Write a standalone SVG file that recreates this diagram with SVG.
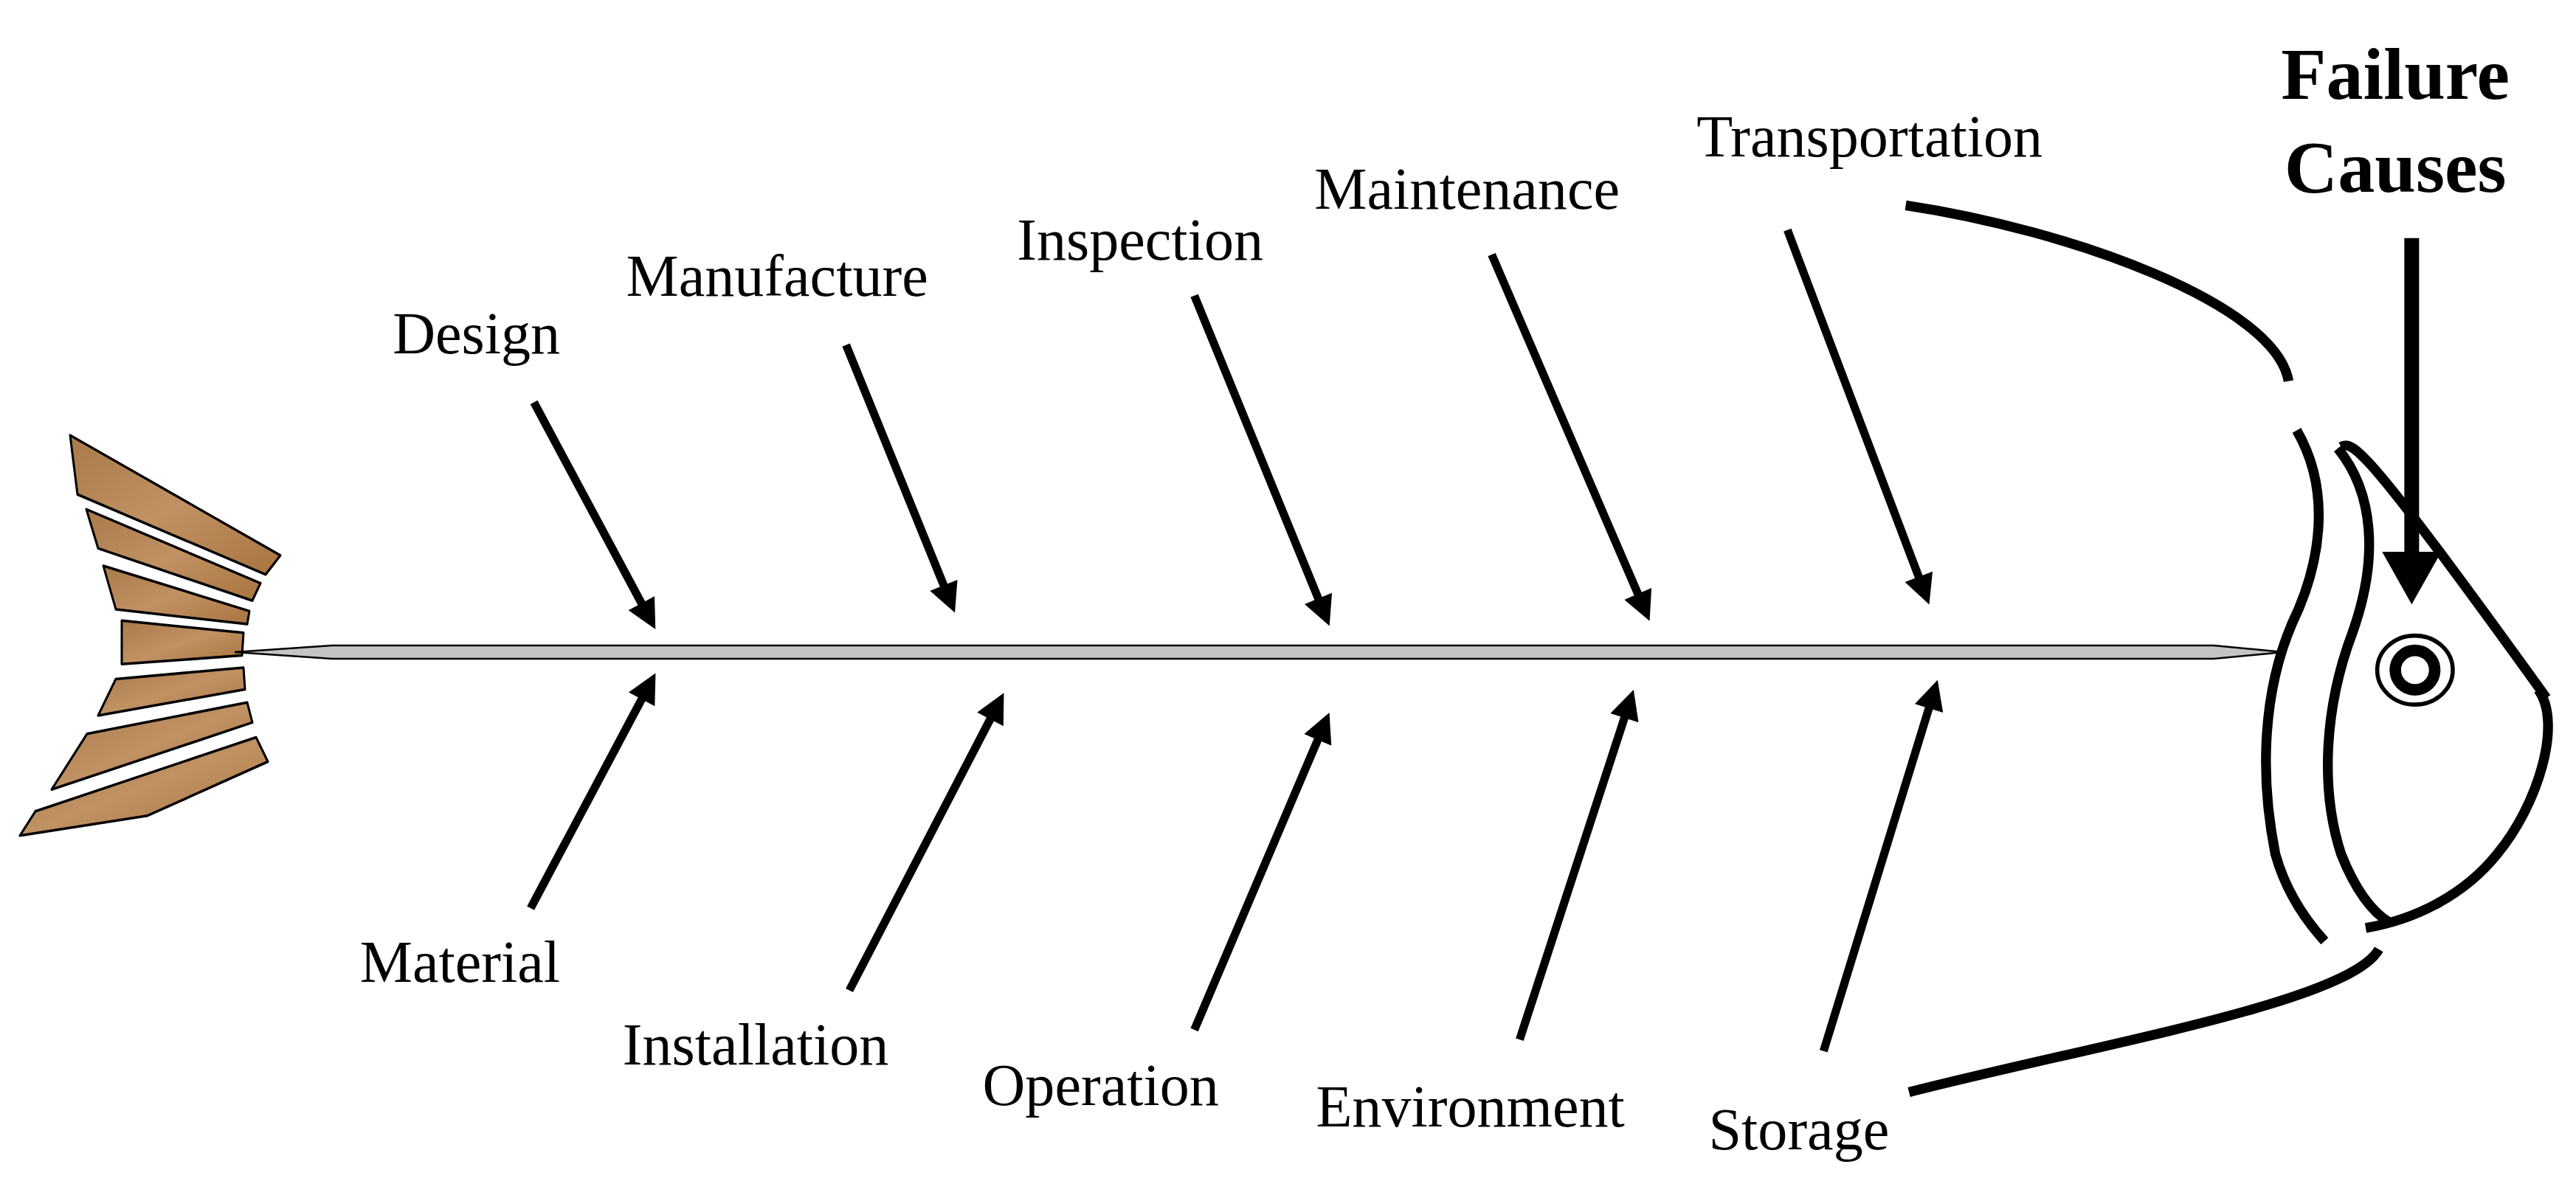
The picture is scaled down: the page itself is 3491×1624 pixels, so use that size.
<svg xmlns="http://www.w3.org/2000/svg" width="3491" height="1624" viewBox="0 0 3491 1624">
<defs>
<linearGradient id="fin" x1="0" y1="0" x2="1" y2="1"><stop offset="0" stop-color="#a9794a"/><stop offset="0.5" stop-color="#c09163"/><stop offset="1" stop-color="#a8743f"/></linearGradient>
<marker id="ah" viewBox="0 0 10 10" refX="4.5" refY="5" markerWidth="4.4" markerHeight="3.6" orient="auto" markerUnits="strokeWidth"><path d="M0,0 L10,5 L0,10 z" fill="#000"/></marker>
</defs>
<style>
.fin{fill:url(#fin);stroke:#000;stroke-width:3;stroke-linejoin:round}
.lbl{font-family:"Liberation Serif",serif;font-size:36px;fill:#000;text-anchor:middle}
.ttl{font-family:"Liberation Serif",serif;font-size:45px;font-weight:bold;fill:#000;text-anchor:middle}
.arr{stroke:#000;stroke-width:5;fill:none;marker-end:url(#ah)}
.hd{stroke:#000;stroke-width:6;fill:none;stroke-linecap:butt}
</style>
<rect width="3491" height="1624" fill="#fff"/>
<g id="tail" transform="translate(0,590) scale(1,1.18) translate(0,-590)">
<polygon class="fin" points="95,590 105,658 360,750 380,728"/>
<polygon class="fin" points="117,675 133,720 342,780 353,760"/>
<polygon class="fin" points="140,740 157,790 335,807 338,792"/>
<polygon class="fin" points="165,803 165,853 328,843 330,817"/>
<polygon class="fin" points="157,870 133,912 332,882 330,857"/>
<polygon class="fin" points="118,933 70,997 342,920 335,897"/>
<polygon class="fin" points="48,1022 27,1050 200,1027 363,965 347,937"/>
</g>
<g id="spine"><polygon points="318,884 450,875 3000,875 3095,884 3000,893 450,893" fill="#c4c4c4" stroke="#000" stroke-width="2.5"/></g>
<g transform="scale(2.2264)">
<g id="connectors">
<line class="arr" x1="325" y1="245" x2="394.3" y2="374.4"/>
<line class="arr" x1="515" y1="210" x2="577.5" y2="363.9"/>
<line class="arr" x1="727" y1="180" x2="805.5" y2="371.9"/>
<line class="arr" x1="908" y1="155" x2="1000.2" y2="369"/>
<line class="arr" x1="1088" y1="140" x2="1170.8" y2="358.8"/>
<line class="arr" x1="323" y1="553" x2="394.4" y2="418.6"/>
<line class="arr" x1="517" y1="603" x2="606.5" y2="430.7"/>
<line class="arr" x1="727" y1="627" x2="805.3" y2="443"/>
<line class="arr" x1="925" y1="633" x2="991.3" y2="429.4"/>
<line class="arr" x1="1110" y1="640" x2="1176.5" y2="423.5"/>
<line x1="1468" y1="145" x2="1468" y2="340" stroke="#000" stroke-width="9"/>
<polygon points="1450,336 1486,336 1468,368" fill="#000"/>
</g>
<g id="labels">
<text class="lbl" x="290" y="215">Design</text>
<text class="lbl" x="473" y="180">Manufacture</text>
<text class="lbl" x="694" y="158">Inspection</text>
<text class="lbl" x="893" y="127">Maintenance</text>
<text class="lbl" x="1138" y="95">Transportation</text>
<text class="lbl" x="280" y="598">Material</text>
<text class="lbl" x="460" y="648">Installation</text>
<text class="lbl" x="670" y="673">Operation</text>
<text class="lbl" x="895" y="686">Environment</text>
<text class="lbl" x="1095" y="700">Storage</text>
<text class="ttl" x="1458" y="60">Failure</text>
<text class="ttl" x="1458" y="117">Causes</text>
</g>
<g id="head">
<path class="hd" d="M1160,125 C1260,140 1385,185 1393,232"/>
<path class="hd" d="M1162,665 C1280,635 1430,610 1448,578"/>
<path class="hd" d="M1398,262 C1420,300 1412,345 1395,380 C1378,420 1375,470 1385,520 C1392,545 1405,562 1415,573"/>
<path class="hd" d="M1423,273 C1445,300 1448,340 1432,385 C1415,430 1412,480 1425,520 C1433,540 1443,555 1455,562"/>
<path class="hd" d="M1425,272 C1432,268 1440,272 1550,425"/>
<path class="hd" d="M1545,420 C1560,440 1545,490 1520,520 C1500,545 1470,560 1440,565"/>
<ellipse cx="1470" cy="408" rx="23" ry="21" fill="none" stroke="#000" stroke-width="2.5"/>
<circle cx="1470" cy="408" r="12" fill="none" stroke="#000" stroke-width="7"/>
</g>
</g>
</svg>
